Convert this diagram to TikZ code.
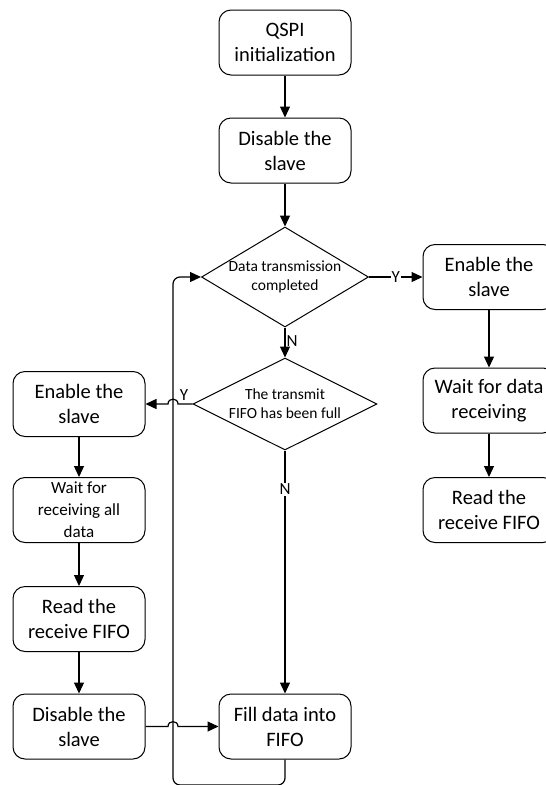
\documentclass[tikz,border=0pt]{standalone}
\usepackage{fontspec}
\setmainfont{Carlito}
\usetikzlibrary{shapes.geometric,arrows.meta}
\begin{document}
\begin{tikzpicture}[x=1pt,y=-1pt,
  box/.style={draw,rounded corners=12pt,minimum width=132pt,minimum height=65pt,inner sep=1pt,align=center,font=\fontsize{20.5}{25}\selectfont,line width=1pt},
  dec/.style={draw,diamond,inner sep=0pt,line width=1pt},
  dectext/.style={font=\fontsize{15.5}{19}\selectfont,align=center},
  flow/.style={line width=1.2pt,-{Triangle[length=11pt,width=10pt]}},
  yn/.style={font=\fontsize{17}{20}\selectfont,inner sep=1pt}
]
\path[use as bounding box,clip] (0,0) rectangle (546,785);
% middle column
\node[box] (q) at (285,42.5) {QSPI\\initialization};
\node[box] (d) at (285,150.5) {Disable the\\slave};
\node[dec,minimum width=167pt,minimum height=100pt,
  label={[dectext]center:Data transmission\\completed}] (c1) at (285,277) {};
\node[dec,minimum width=184pt,minimum height=92pt,
  label={[dectext]center:The transmit\\FIFO has been full}] (c2) at (285,404) {};
\node[box] (f) at (285,726.5) {Fill data into\\FIFO};
% right column
\node[box] (r1) at (489,277) {Enable the\\slave};
\node[box] (r2) at (489,400.5) {Wait for data\\receiving};
\node[box] (r3) at (489,510) {Read the\\receive FIFO};
% left column
\node[box] (l1) at (79,404) {Enable the\\slave};
\node[box,font=\fontsize{17}{22}\selectfont] (l2) at (79,510) {Wait for\\receiving all\\data};
\node[box] (l3) at (79,619) {Read the\\receive FIFO};
\node[box] (l4) at (79,726.5) {Disable the\\slave};
\coordinate (loopc) at (173,785);
% connectors
\draw[flow] (q) -- (d);
\draw[flow] (d) -- (c1.north);
\draw[flow] (c1.east) -- node[yn,fill=white]{Y} (r1.west);
\draw[flow] (r1) -- (r2);
\draw[flow] (r2) -- (r3);
\draw[flow] (c1.south) -- node[yn,right,pos=0.45]{N} (c2.north);
\draw[flow] (c2.south) -- node[yn,fill=white,pos=0.16]{N} (f.north);
\draw[flow] (c2.west) -- (178,404) .. controls (178,397.5) and (168,397.5) .. (168,404) -- (l1.east);
\node[yn] (ylab) at (184,395) {Y};
\draw[flow] (l1) -- (l2);
\draw[flow] (l2) -- (l3);
\draw[flow] (l3) -- (l4);
\draw[flow] (l4.east) -- (168,726.5) .. controls (168,720) and (178,720) .. (178,726.5) -- (f.west);
\draw[flow,rounded corners=7pt] (f.south) |- (loopc) |- (c1.west);
\end{tikzpicture}
\end{document}
